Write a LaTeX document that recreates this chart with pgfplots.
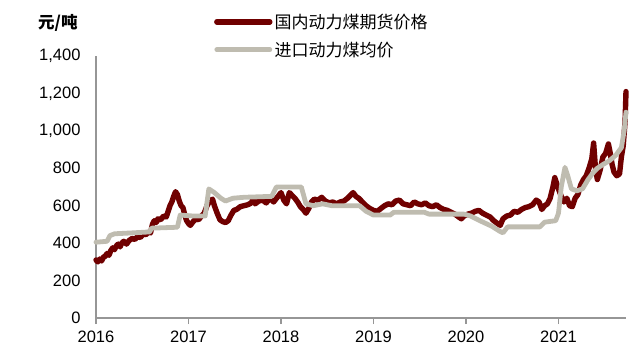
\documentclass[border=0pt]{standalone}
\usepackage{pgfplots}
\pgfplotsset{compat=1.18}
\usepackage{fontspec}
\setmainfont{Liberation Sans}
\newfontfamily\cjk{Noto Sans CJK SC}
\definecolor{dom}{RGB}{112,0,0}
\definecolor{imp}{RGB}{191,188,176}
\definecolor{axgray}{RGB}{150,150,150}
\begin{document}
\begin{tikzpicture}
\begin{axis}[
  scale only axis, width=530bp, height=262bp,
  xmin=2016, xmax=2021.73, ymin=0, ymax=1400,
  axis x line*=bottom, axis y line*=left,
  axis line style={axgray, line width=1.3bp},
  xtick={2016,2017,2018,2019,2020,2021},
  xticklabels={2016,2017,2018,2019,2020,2021},
  ytick={0,200,400,600,800,1000,1200,1400},
  /pgf/number format/assume math mode=true,
  /pgf/number format/1000 sep={,},
  x tick style={axgray, line width=1.3bp}, xtick align=outside, major tick length=6bp,
  y tick style={draw=none},
  tick label style={font=\fontsize{16.5bp}{20bp}\selectfont, text=black},
  yticklabel style={xshift=-12bp},
  xticklabel style={yshift=-3bp},
  ylabel={元/吨},
  ylabel style={rotate=-90, at={(axis description cs:-0.072,1.126)}, anchor=center, font=\cjk\bfseries\fontsize{16.5bp}{20bp}\selectfont},
  legend style={draw=none, fill=none, at={(axis description cs:0.2225,1.169)}, anchor=north west,
    font=\cjk\fontsize{17bp}{20bp}\selectfont, row sep=8bp, inner sep=0pt},
  legend cell align=left,
  legend image code/.code={\draw[#1] (0bp,0bp) -- (53bp,0bp);},
  clip=false,
]
\addplot[dom, line width=5.4bp, line join=round, line cap=round] coordinates {
(2016.00,310) (2016.02,300) (2016.04,315) (2016.06,305) (2016.08,325) (2016.10,330)
(2016.12,345) (2016.14,335) (2016.16,360) (2016.18,375) (2016.20,365) (2016.22,385)
(2016.24,395) (2016.26,380) (2016.28,400) (2016.30,410) (2016.33,395) (2016.36,415)
(2016.39,425) (2016.42,420) (2016.45,435) (2016.48,430) (2016.51,450) (2016.54,445)
(2016.57,460) (2016.59,455) (2016.61,500) (2016.63,520) (2016.65,510) (2016.67,530)
(2016.70,525) (2016.73,545) (2016.76,540) (2016.78,570) (2016.80,600) (2016.82,620)
(2016.84,650) (2016.86,675) (2016.88,660) (2016.90,625) (2016.92,600) (2016.94,590)
(2016.96,550) (2016.98,520) (2017.00,505) (2017.02,495) (2017.05,515) (2017.08,530)
(2017.11,525) (2017.14,545) (2017.17,560) (2017.20,600) (2017.23,625) (2017.26,635)
(2017.28,600) (2017.31,560) (2017.34,525) (2017.37,515) (2017.40,510) (2017.43,520)
(2017.46,550) (2017.49,575) (2017.52,580) (2017.56,595) (2017.60,600) (2017.64,605)
(2017.68,615) (2017.70,640) (2017.72,610) (2017.76,625) (2017.80,630) (2017.84,615)
(2017.88,640) (2017.92,620) (2017.96,645) (2018.00,670) (2018.03,630) (2018.06,610)
(2018.09,670) (2018.12,655) (2018.15,640) (2018.18,620) (2018.21,595) (2018.24,580)
(2018.27,560) (2018.30,585) (2018.33,620) (2018.36,635) (2018.40,630) (2018.44,645)
(2018.48,625) (2018.52,615) (2018.56,620) (2018.60,610) (2018.64,620) (2018.68,625)
(2018.72,640) (2018.76,660) (2018.78,670) (2018.81,650) (2018.84,640) (2018.88,620)
(2018.92,600) (2018.96,585) (2019.00,575) (2019.04,570) (2019.08,585) (2019.12,600)
(2019.16,610) (2019.20,605) (2019.24,625) (2019.28,630) (2019.32,610) (2019.36,605)
(2019.40,600) (2019.44,620) (2019.48,610) (2019.52,605) (2019.56,615) (2019.60,600)
(2019.64,595) (2019.68,605) (2019.72,590) (2019.76,580) (2019.80,575) (2019.84,565)
(2019.88,555) (2019.92,540) (2019.95,530) (2019.98,545) (2020.02,555) (2020.06,560)
(2020.10,570) (2020.14,575) (2020.18,560) (2020.22,550) (2020.26,540) (2020.30,520)
(2020.34,505) (2020.37,495) (2020.40,530) (2020.44,545) (2020.48,550) (2020.52,570)
(2020.56,565) (2020.60,580) (2020.64,590) (2020.68,595) (2020.72,605) (2020.76,630)
(2020.79,620) (2020.82,580) (2020.85,600) (2020.88,610) (2020.91,640) (2020.94,700)
(2020.96,750) (2020.98,720) (2021.00,690) (2021.03,650) (2021.06,620) (2021.09,640)
(2021.12,600) (2021.15,595) (2021.18,640) (2021.21,660) (2021.24,710) (2021.27,740)
(2021.30,760) (2021.33,800) (2021.36,850) (2021.38,935) (2021.40,800) (2021.42,740)
(2021.45,790) (2021.48,860) (2021.51,880) (2021.54,930) (2021.56,880) (2021.58,820)
(2021.60,780) (2021.63,760) (2021.66,770) (2021.68,860) (2021.70,920) (2021.72,1050)
(2021.73,1210)
};
\addlegendentry{国内动力煤期货价格}
\addplot[imp, line width=4.8bp, line join=round, line cap=round] coordinates {
(2016.00,405) (2016.12,410) (2016.15,440) (2016.20,450) (2016.40,455) (2016.58,460)
(2016.60,480) (2016.88,485) (2016.91,550) (2017.05,545) (2017.18,545) (2017.22,690)
(2017.28,670) (2017.35,640) (2017.40,625) (2017.48,640) (2017.60,645) (2017.90,650)
(2017.95,700) (2018.22,700) (2018.27,610) (2018.35,600) (2018.45,610) (2018.55,600)
(2018.85,600) (2018.92,570) (2019.00,550) (2019.18,550) (2019.22,565) (2019.55,565)
(2019.60,555) (2019.98,555) (2020.05,545) (2020.15,520) (2020.28,490) (2020.36,465)
(2020.40,455) (2020.45,487) (2020.80,487) (2020.85,512) (2020.97,520) (2021.00,560)
(2021.03,700) (2021.07,805) (2021.10,760) (2021.14,690) (2021.20,680) (2021.26,690)
(2021.32,740) (2021.38,780) (2021.42,800) (2021.48,820) (2021.55,840) (2021.62,870)
(2021.68,910) (2021.71,1000) (2021.73,1100)
};
\addlegendentry{进口动力煤均价}
\end{axis}
\pgfresetboundingbox
\path[use as bounding box] (-96bp,-40bp) rectangle (544bp,318bp);
\end{tikzpicture}
\end{document}
